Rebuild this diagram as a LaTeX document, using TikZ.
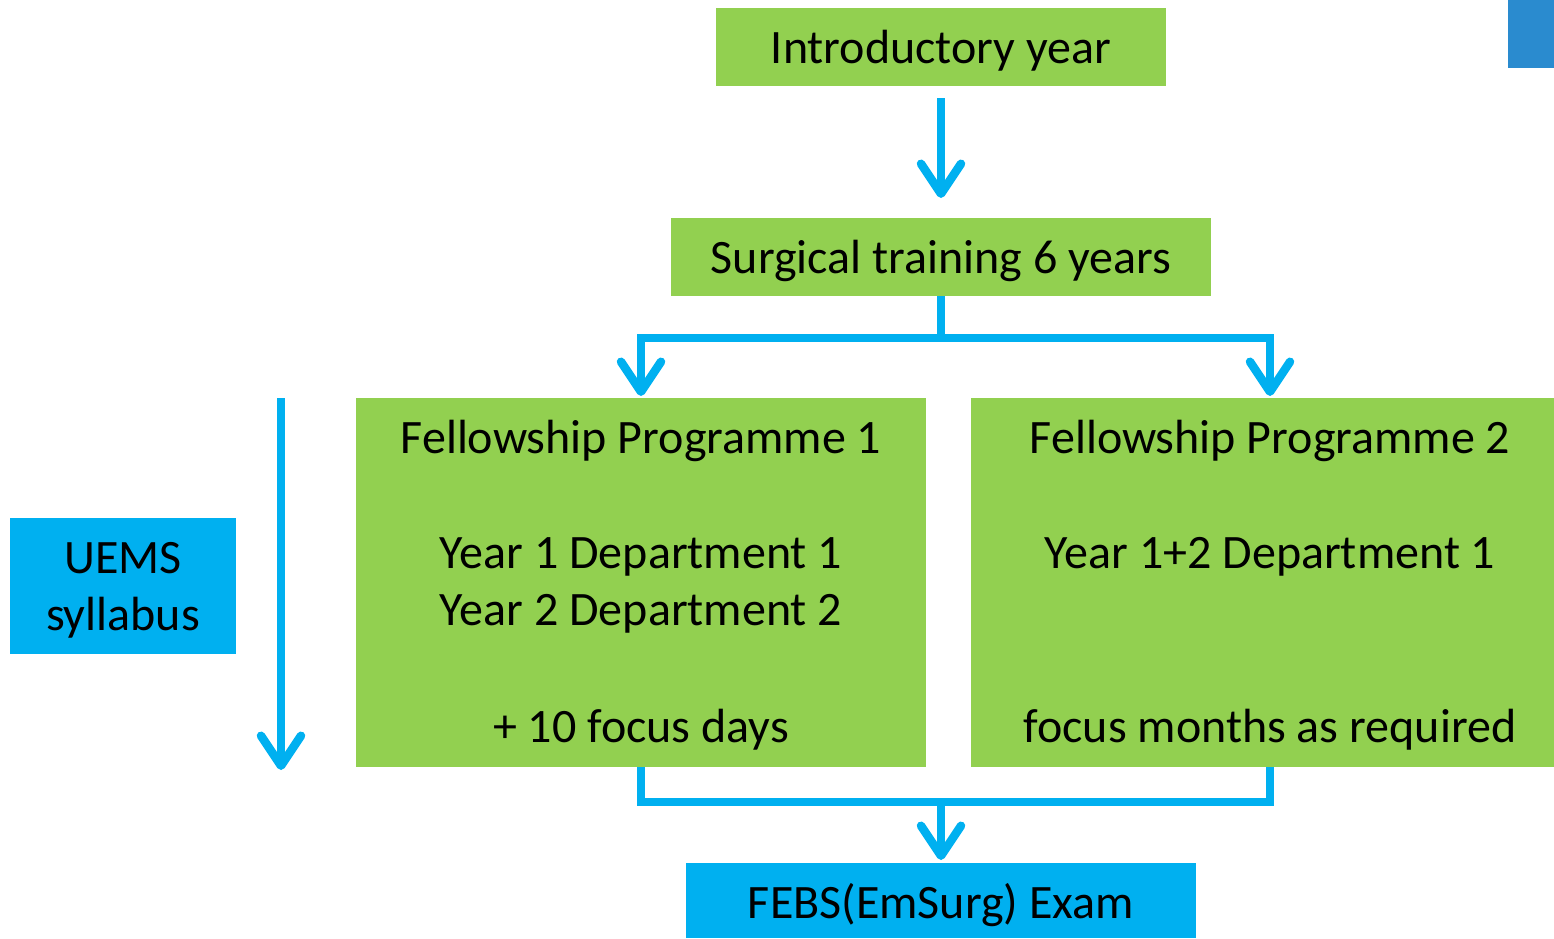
\documentclass[tikz,border=0pt]{standalone}
\usepackage{fontspec}
\setmainfont{Carlito}
\usetikzlibrary{arrows.meta}
\definecolor{gfill}{HTML}{92D050}
\definecolor{bfill}{HTML}{00B0F0}
\definecolor{cornerblue}{HTML}{2A8BCF}
\begin{document}
\begin{tikzpicture}[x=1pt,y=-1pt,
  box/.style={inner sep=0pt, outer sep=0pt, draw=none},
  gbox/.style={box, fill=gfill},
  bbox/.style={box, fill=bfill},
  txt/.style={inner sep=0pt, anchor=base, font=\fontsize{48}{58}\selectfont},
  ln/.style={draw=bfill, line width=8.5pt, line join=miter},
  arr/.style={ln, -{Straight Barb[round, length=30pt, width=40pt]}}]
\useasboundingbox (0,0) rectangle (1554,938);
% corner
\node[box, fill=cornerblue, minimum width=46pt, minimum height=68pt] (corner) at (1531,34) {};
% boxes
\node[gbox, minimum width=450pt, minimum height=78pt] (intro) at (941,47) {};
\node[txt] (introT) at (941,63) {Introductory year};
\node[gbox, minimum width=540pt, minimum height=78pt] (surg) at (941,257) {};
\node[txt] (surgT) at (941,273) {Surgical training 6 years};
\node[gbox, minimum width=570pt, minimum height=369pt] (fp1) at (641,582.5) {};
\node[gbox, minimum width=583pt, minimum height=369pt] (fp2) at (1262.5,582.5) {};
\node[txt] (fp1a) at (641,453) {Fellowship Programme 1};
\node[txt] (fp1b) at (641,568) {Year 1 Department 1};
\node[txt] (fp1c) at (641,625) {Year 2 Department 2};
\node[txt] (fp1d) at (641,742) {+ 10 focus days};
\node[txt] (fp2a) at (1270,453) {Fellowship Programme 2};
\node[txt] (fp2b) at (1270,568) {Year 1+2 Department 1};
\node[txt] (fp2d) at (1270,742) {focus months as required};
\node[bbox, minimum width=226pt, minimum height=136pt] (uems) at (123,586) {};
\node[txt] (uemsA) at (123,573) {UEMS};
\node[txt] (uemsB) at (123,630) {syllabus};
\node[bbox, minimum width=510pt, minimum height=75pt] (febs) at (941,900.5) {};
\node[txt] (febsT) at (941,918) {FEBS(EmSurg) Exam};
% connectors
\draw[arr, shorten <=12pt, shorten >=20pt] (intro.south) -- (surg.north);
\coordinate (sL) at (641,338);
\coordinate (sR) at (1270,338);
\draw[ln] (surg.south) -- (surg.south |- sL);
\draw[ln, line cap=rect] (sL) -- (sR);
\draw[arr, shorten >=2pt] (sL) -- (sL |- fp1.north);
\draw[arr, shorten >=2pt] (sR) -- (sR |- fp2.north);
\coordinate (bL) at (641,802);
\coordinate (bR) at (1270,802);
\draw[ln] (fp1.south -| bL) -- (bL) -- (bR) -- (fp2.south -| bR);
\draw[arr, shorten >=3pt] (febs.north |- bL) -- (febs.north);
\coordinate (vtop) at (281,398);
\coordinate (vbot) at (281,770);
\draw[arr] (vtop) -- (vbot);
\end{tikzpicture}
\end{document}
